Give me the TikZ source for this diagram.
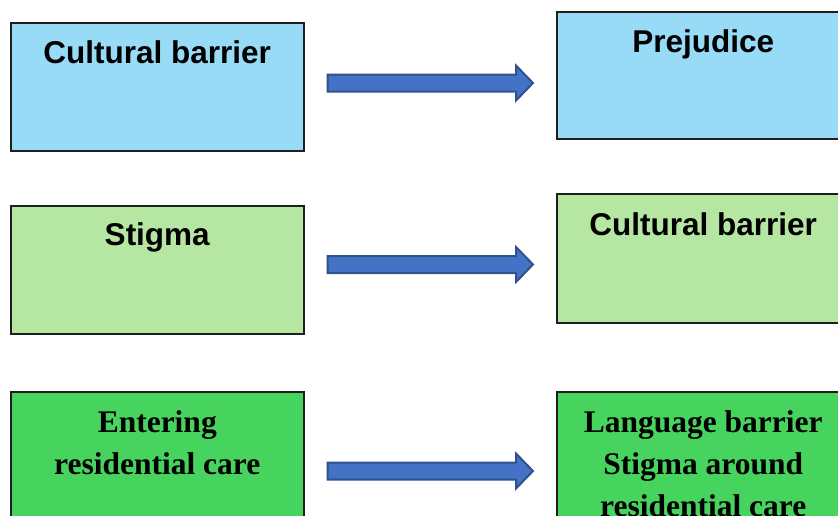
\documentclass[tikz,border=0pt]{standalone}
\usepackage{fontspec}
\setmainfont{Liberation Serif}
\setsansfont{Liberation Sans}
\usetikzlibrary{calc}

\definecolor{skyfill}{RGB}{151,219,246}
\definecolor{palegreen}{RGB}{181,230,162}
\definecolor{brightgreen}{RGB}{71,212,94}
\definecolor{arrowfill}{RGB}{68,114,196}
\definecolor{arrowedge}{RGB}{47,82,143}
\definecolor{boxedge}{RGB}{30,30,30}

\tikzset{
  box/.style={draw=boxedge, line width=1.5pt, rectangle, inner sep=0pt,
              minimum width=293pt, anchor=north west},
  sanslabel/.style={anchor=base, font=\fontsize{31.5}{38}\selectfont\sffamily\bfseries},
  seriflabel/.style={anchor=base, align=center,
                     font=\fontsize{31.5}{42}\selectfont\rmfamily\bfseries},
  blockarrow/.style={fill=arrowfill, draw=arrowedge, line width=2pt, line join=miter},
}

% block arrow from coordinate #1 to coordinate #2 (same height)
\newcommand\blockarrow[2]{%
  \draw[blockarrow] ($(#1)+(0,-8.5)$) -- ($(#2)+(-17,-8.5)$) -- ($(#2)+(-17,-17.5)$)
    -- (#2) -- ($(#2)+(-17,17.5)$) -- ($(#2)+(-17,8.5)$) -- ($(#1)+(0,8.5)$) -- cycle;}

\begin{document}
\begin{tikzpicture}[x=1pt, y=-1pt]
  \useasboundingbox (0,0) rectangle (838,515);
  \clip (0,0) rectangle (838,515);

  % boxes
  \node[box, fill=skyfill, minimum height=128pt] (l1) at (10,22) {};
  \node[box, fill=skyfill, minimum height=127pt] (r1) at (556,11) {};
  \node[box, fill=palegreen, minimum height=128pt] (l2) at (10,205) {};
  \node[box, fill=palegreen, minimum height=129pt] (r2) at (556,193) {};
  \node[box, fill=brightgreen, minimum height=160pt] (l3) at (10,391) {};
  \node[box, fill=brightgreen, minimum height=160pt] (r3) at (556,391) {};

  % box texts
  \node[sanslabel] (t1) at ($(l1.north)+(0,41)$) {Cultural barrier};
  \node[sanslabel] (t2) at ($(r1.north)+(0,41)$) {Prejudice};
  \node[sanslabel] (t3) at ($(l2.north)+(0,40)$) {Stigma};
  \node[sanslabel] (t4) at ($(r2.north)+(0,42)$) {Cultural barrier};
  \node[seriflabel, anchor=north] (t5) at ($(l3.north)+(0,16.5)$)
    {Entering\\residential care};
  \node[seriflabel, anchor=north] (t6) at ($(r3.north)+(0,16.5)$)
    {Language barrier\\Stigma around\\residential care};

  % arrow end points
  \coordinate (s1) at ($(l1.east |- 0,83)+(23,0)$);
  \coordinate (e1) at ($(r1.west |- 0,83)+(-23,0)$);
  \coordinate (s2) at ($(l2.east |- 0,264.5)+(23,0)$);
  \coordinate (e2) at ($(r2.west |- 0,264.5)+(-23,0)$);
  \coordinate (s3) at ($(l3.east |- 0,471)+(23,0)$);
  \coordinate (e3) at ($(r3.west |- 0,471)+(-23,0)$);

  \blockarrow{s1}{e1}
  \blockarrow{s2}{e2}
  \blockarrow{s3}{e3}
\end{tikzpicture}
\end{document}
